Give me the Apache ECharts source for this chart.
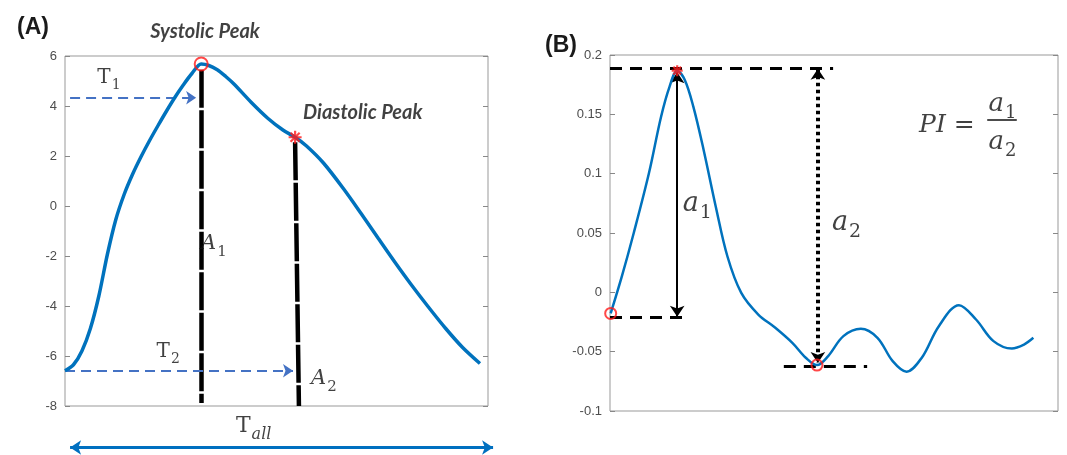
<!DOCTYPE html>
<html>
<head>
<meta charset="utf-8">
<script src="https://cdn.jsdelivr.net/npm/echarts@6/dist/echarts.min.js"></script>
<style>
  html, body { margin: 0; padding: 0; background: #fff; }
  #chart { width: 1067px; height: 455px; }
</style>
</head>
<body>
<div id="chart"></div>
<script>
// panel A: pulse wave (time in % of beat, amplitude)
const aTime = [0, 2, 4, 6, 8, 10, 12, 14, 16, 18, 20, 22, 24, 26, 28, 30, 32.2, 34, 36, 38, 40, 44, 48, 51.6, 54.4, 57.1, 61.1, 65.8, 70, 74, 78, 82, 86, 90, 94, 98.1];
const aPulse = [-6.59, -6.35, -5.8, -4.9, -3.6, -1.95, -0.55, 0.47, 1.28, 1.98, 2.62, 3.22, 3.8, 4.35, 4.85, 5.3, 5.68, 5.62, 5.45, 5.18, 4.87, 4.15, 3.5, 3.03, 2.75, 2.4, 1.72, 0.7, -0.3, -1.28, -2.25, -3.18, -4.06, -4.9, -5.66, -6.3];
const aSystolic = [32.2, 5.68];
const aDiastolic = [54.4, 2.75];

// panel B: derivative-like wave
const bTime = [0.15, 2.66, 5.3, 8.7, 11.4, 13.3, 15.0, 16.7, 18.6, 20.9, 23.6, 26.2, 29.3, 33.1, 36.9, 40.7, 43.7, 46.2, 48.7, 52.1, 56.0, 59.7, 63.1, 66.2, 69.6, 73.4, 77.9, 81.7, 85.6, 89.7, 92.4, 94.5];
const bPulse = [-0.0178, 0.0136, 0.05, 0.1005, 0.148, 0.1734, 0.1868, 0.179, 0.1565, 0.12, 0.0724, 0.0304, -0.0005, -0.0187, -0.0299, -0.0426, -0.0551, -0.0613, -0.0537, -0.0369, -0.0307, -0.0383, -0.058, -0.0669, -0.0551, -0.0285, -0.0108, -0.0229, -0.0411, -0.0473, -0.044, -0.0383];
const bPeak = [15.0, 0.1868];
const bStart = [0.15, -0.0178];
const bTrough = [46.2, -0.0613];

const yRangeA = { min: -8, max: 6, interval: 2 };
const yRangeB = { min: -0.1, max: 0.2, interval: 0.05 };

const BLUE = '#0072BD';
const ARROW_BLUE = '#4472C4';
const RED = '#ff1a1a';
const STAR = 'path://M5,0L5,10M0,5L10,5M1.5,1.5L8.5,8.5M1.5,8.5L8.5,1.5';
const SERIF = '"DejaVu Serif", "Liberation Serif", serif';

function zip(xs, ys) {
  return xs.map((x, i) => [x, ys[i]]);
}

function yAxes(range, grid) {
  const common = {
    type: 'value', gridIndex: grid, min: range.min, max: range.max, interval: range.interval,
    axisLine: { show: false }, splitLine: { show: false },
    axisTick: { show: true, inside: true, length: 5, lineStyle: { color: '#888' } }
  };
  return [
    Object.assign({}, common, {
      position: 'left',
      axisLabel: { color: '#4d4d4d', fontSize: 13, fontFamily: '"Liberation Sans", Arial', margin: 8 }
    }),
    Object.assign({}, common, { position: 'right', axisLabel: { show: false } })
  ];
}

function text(xi, yi, pos, label, rich) {
  return {
    type: 'scatter', xAxisIndex: xi, yAxisIndex: yi, symbolSize: 0, silent: true, clip: false, z: 10,
    data: [pos],
    label: { show: true, position: 'inside', formatter: label, rich: rich, color: '#111' }
  };
}

function seg(xi, yi, from, to, style, symbols, size) {
  return {
    type: 'lines', coordinateSystem: 'cartesian2d', xAxisIndex: xi, yAxisIndex: yi,
    silent: true, clip: false, z: 5,
    symbol: symbols || ['none', 'none'], symbolSize: size || 10,
    lineStyle: Object.assign({ opacity: 1, curveness: 0 }, style),
    data: [{ coords: [from, to] }]
  };
}

function marker(xi, yi, pos, kind, size) {
  const circle = kind === 'circle';
  return {
    type: 'scatter', xAxisIndex: xi, yAxisIndex: yi, z: 20, silent: true,
    symbol: circle ? 'circle' : STAR, symbolSize: size,
    itemStyle: { color: circle ? 'transparent' : RED, borderColor: RED, borderWidth: circle ? 2 : 2.2 },
    data: [pos]
  };
}

// main glyph + lowered subscript
const subRich = (big, small, mainItalic, subItalic) => ({
  m: { fontFamily: SERIF, fontSize: big, fontStyle: mainItalic ? 'italic' : 'normal', color: '#111', verticalAlign: 'top', lineHeight: big + 2 },
  s: { fontFamily: SERIF, fontSize: small, fontStyle: subItalic ? 'italic' : 'normal', color: '#111', verticalAlign: 'top', lineHeight: small, padding: [big * 0.52, 0, 0, 1] }
});

const peakFont = { fontFamily: 'Lato, "Open Sans", sans-serif', fontSize: 20, fontWeight: 'bold', fontStyle: 'italic', color: '#111' };

var chart = echarts.init(document.getElementById('chart'));
chart.setOption({
  animation: false,
  title: [
    { text: '(A)', left: 12, top: 11, textStyle: { fontFamily: '"Liberation Sans", Arial', fontWeight: 'bold', fontSize: 23, color: '#1a1a1a' } },
    { text: '(B)', left: 540, top: 29, textStyle: { fontFamily: '"Liberation Sans", Arial', fontWeight: 'bold', fontSize: 23, color: '#1a1a1a' } }
  ],
  grid: [
    { left: 65, top: 56, width: 423, height: 350, show: true, borderColor: '#999', borderWidth: 1 },
    { left: 610, top: 55, width: 448, height: 356, show: true, borderColor: '#999', borderWidth: 1 }
  ],
  xAxis: [
    { type: 'value', gridIndex: 0, min: 0, max: 100, show: false },
    { type: 'value', gridIndex: 1, min: 0, max: 100, show: false }
  ],
  yAxis: yAxes(yRangeA, 0).concat(yAxes(yRangeB, 1)),
  series: [
    // ---- panel A ----
    seg(0, 0, [aSystolic[0], 5.45], [aSystolic[0], -7.88], { color: '#000', width: 4.5, type: [38, 2.5] }),
    seg(0, 0, [aDiastolic[0], 2.55], [55.3, -8], { color: '#000', width: 4.5, type: [38, 2.5] }),
    seg(0, 0, [1.2, 4.33], [31.0, 4.33], { color: ARROW_BLUE, width: 2.2, type: [10, 6] }, ['none', 'arrow'], 10),
    seg(0, 0, [0, -6.59], [53.9, -6.59], { color: ARROW_BLUE, width: 2.2, type: [10, 6] }, ['none', 'arrow'], 10),
    seg(0, 0, [1.2, -9.66], [101.2, -9.66], { color: '#0070C0', width: 3 }, ['arrow', 'arrow'], 11),
    {
      type: 'line', xAxisIndex: 0, yAxisIndex: 0, data: zip(aTime, aPulse), smooth: 0.3,
      showSymbol: false, lineStyle: { color: BLUE, width: 3.5 }, z: 8
    },
    marker(0, 0, aSystolic, 'circle', 13),
    marker(0, 0, aDiastolic, 'star', 13),
    text(0, 0, [33.1, 6.96], '{p|Systolic Peak}', { p: peakFont }),
    text(0, 0, [70.4, 3.72], '{p|Diastolic Peak}', { p: peakFont }),
    text(0, 0, [10.4, 5.1], '{m|T}{s|1}', subRich(20, 14, false, false)),
    text(0, 0, [24.4, -5.86], '{m|T}{s|2}', subRich(20, 14, false, false)),
    text(0, 0, [35.2, -1.56], '{m|A}{s|1}', subRich(21, 15, true, false)),
    text(0, 0, [61.2, -6.96], '{m|A}{s|2}', subRich(21, 15, true, false)),
    text(0, 0, [44.6, -8.86], '{m|T}{s|all}', subRich(22, 16, false, true)),
    // ---- panel B ----
    seg(1, 2, [0, 0.1888], [49.8, 0.1888], { color: '#000', width: 2.8, type: [12, 8] }),
    seg(1, 2, [0, -0.0207], [17.5, -0.0207], { color: '#000', width: 2.8, type: [12, 8] }),
    seg(1, 2, [38.8, -0.0622], [57.4, -0.0622], { color: '#000', width: 2.8, type: [12, 8] }),
    seg(1, 2, [bPeak[0], 0.1855], [bPeak[0], -0.0205], { color: '#000', width: 2 }, ['arrow', 'arrow'], 11),
    seg(1, 2, [46.4, 0.1885], [46.4, -0.0595], { color: '#000', width: 4, type: [3.5, 3.5] }, ['arrow', 'arrow'], 11),
    {
      type: 'line', xAxisIndex: 1, yAxisIndex: 2, data: zip(bTime, bPulse), smooth: 0.35,
      showSymbol: false, lineStyle: { color: BLUE, width: 2.5 }, z: 8
    },
    marker(1, 2, bPeak, 'star', 11),
    marker(1, 2, bStart, 'circle', 11),
    marker(1, 2, bTrough, 'circle', 11),
    text(1, 2, [19.5, 0.074], '{m|a}{s|1}', subRich(27, 19, true, false)),
    text(1, 2, [52.8, 0.058], '{m|a}{s|2}', subRich(27, 19, true, false)),
    text(1, 2, [75.2, 0.141], '{p|PI =}', { p: { fontFamily: SERIF, fontSize: 25, fontStyle: 'italic', color: '#111' } }),
    seg(1, 2, [84.2, 0.1455], [90.8, 0.1455], { color: '#111', width: 1.5 }),
    text(1, 2, [87.6, 0.158], '{m|a}{s|1}', subRich(26, 18, true, false)),
    text(1, 2, [87.6, 0.126], '{m|a}{s|2}', subRich(26, 18, true, false))
  ]
});
</script>
</body>
</html>
